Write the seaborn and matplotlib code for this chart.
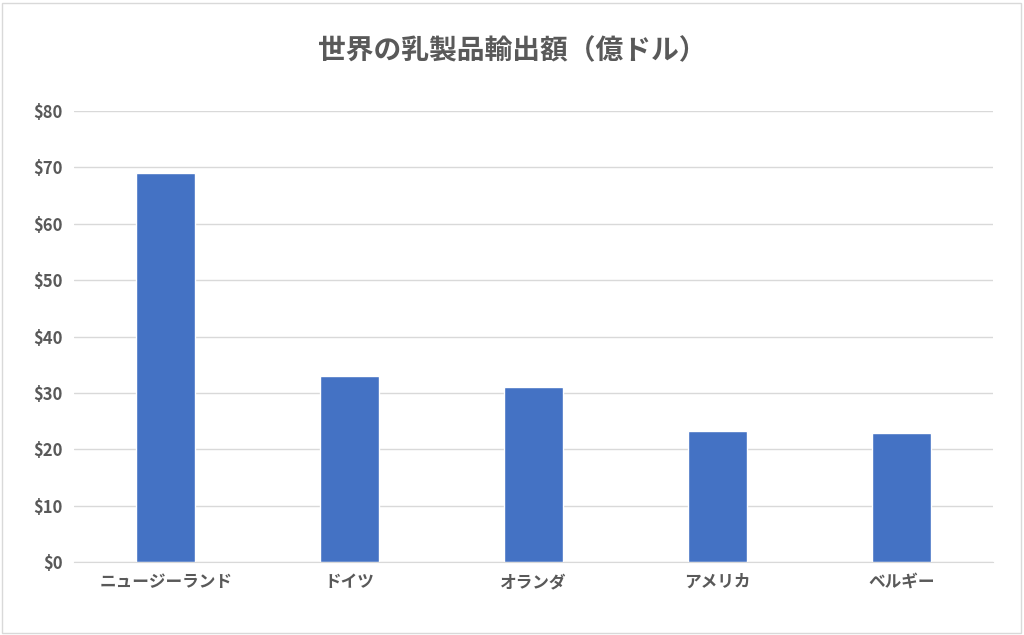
import matplotlib
matplotlib.use("Agg")
import matplotlib.pyplot as plt
import seaborn as sns
import pandas as pd
from matplotlib.patches import Rectangle

countries = ["ニュージーランド", "ドイツ", "オランダ", "アメリカ", "ベルギー"]
exports = [69.0, 33.0, 31.0, 23.3, 22.9]
y_ticks = [0, 10, 20, 30, 40, 50, 60, 70, 80]

sns.set_style("white")
plt.rcParams["font.family"] = ["Noto Sans CJK JP", "DejaVu Sans"]

df = pd.DataFrame({"country": countries, "value": exports})

fig = plt.figure(figsize=(10.24, 6.35), dpi=100)
ax = fig.add_axes([0.072, 0.115, 0.898, 0.71])
sns.barplot(data=df, x="country", y="value", color="#4472C4", width=0.32,
            saturation=1, ax=ax)

ax.set_ylim(0, 80)
ax.set_yticks(y_ticks)
ax.set_yticklabels([f"${v}" for v in y_ticks], fontsize=12, fontweight="bold", color="#595959")
ax.set_xticklabels(countries, fontsize=12, fontweight="bold", color="#595959")
ax.set_xlabel("")
ax.set_ylabel("")
ax.grid(axis="y", color="#D9D9D9", linewidth=1)
ax.set_axisbelow(True)
for s in ["top", "right", "left"]:
    ax.spines[s].set_visible(False)
ax.spines["bottom"].set_color("#D9D9D9")
ax.tick_params(length=0, pad=8)

fig.text(0.5, 0.92, "世界の乳製品輸出額（億ドル）", ha="center", va="center",
         fontsize=20, fontweight="bold", color="#595959")
fig.patches.append(Rectangle((0.002, 0.003), 0.995, 0.993, transform=fig.transFigure,
                             fill=False, edgecolor="#D9D9D9", linewidth=1))

fig.savefig("out.png", dpi=100)
